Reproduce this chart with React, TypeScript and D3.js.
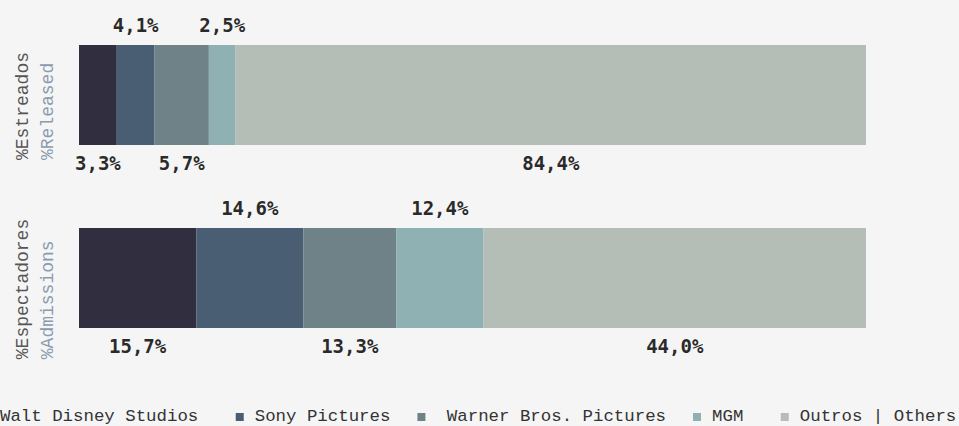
import React, { useEffect, useRef } from "react";
import * as d3 from "d3";

// studios, in stacking order
const studios = ["Walt Disney Studios", "Sony Pictures", "Warner Bros. Pictures", "MGM", "Outros | Others"];
// legend text as it appears (spacing kept)
const legendText = ["Walt Disney Studios ", "Sony Pictures", " Warner Bros. Pictures", "MGM ", "Outros | Others"];
const colors = ["#312e40", "#4a5e73", "#6e8287", "#8fb1b3", "#b4beb6"];

const rows = ["released", "admissions"];
const rowLabelPt = ["%Estreados", "%Espectadores"];
const rowLabelEn = ["%Released", "%Admissions"];

// segment widths as drawn (share of the bar, %)
const releasedShare = [4.8, 4.8, 6.9, 3.4, 80.1];
const admissionsShare = [14.9, 13.6, 11.8, 11.1, 48.6];

// printed values
const releasedLabels = ["3,3%", "4,1%", "5,7%", "2,5%", "84,4%"];
const admissionsLabels = ["15,7%", "14,6%", "13,3%", "12,4%", "44,0%"];

const width = 959,
  height = 426;

const mono = "'Liberation Mono', 'DejaVu Sans Mono', monospace";

export default function App() {
  const ref = useRef<SVGSVGElement>(null);

  useEffect(() => {
    document.body.style.margin = "0";
    document.body.style.background = "#f5f5f5";
    const svg = d3.select(ref.current);
    svg.selectAll("*").remove();

    const x = d3.scaleLinear().domain([0, 100]).range([79, 866]);
    const y = d3.scaleBand().domain(rows).range([45, 328]).paddingInner(0.4536).paddingOuter(0);

    const shares = [releasedShare, admissionsShare];
    const labels = [releasedLabels, admissionsLabels];

    rows.forEach((row, r) => {
      const stack = d3.cumsum(shares[r]);
      const segs = shares[r].map((v, i) => ({ x0: stack[i] - v, x1: stack[i], label: labels[r][i], i }));
      const top = y(row)!;
      const bh = y.bandwidth();
      const g = svg.append("g");

      g.selectAll("rect")
        .data(segs)
        .enter()
        .append("rect")
        .attr("x", (d) => x(d.x0))
        .attr("width", (d) => x(d.x1) - x(d.x0))
        .attr("y", top)
        .attr("height", bh)
        .attr("fill", (d) => colors[d.i]);

      // odd ones above, even ones below
      g.selectAll("text.val")
        .data(segs)
        .enter()
        .append("text")
        .attr("class", "val")
        .attr("x", (d) => (x(d.x0) + x(d.x1)) / 2)
        .attr("y", (d) => (d.i % 2 ? top - 13 : top + bh + 25))
        .attr("text-anchor", "middle")
        .attr("font-family", "'DejaVu Sans Mono', monospace")
        .attr("font-weight", "bold")
        .attr("font-size", 19)
        .attr("fill", "#2a2a2a")
        .text((d) => d.label);

      // rotated row label, two lines
      const cy = top + bh / 2;
      const lab = svg.append("g");
      const t1 = lab
        .append("text")
        .attr("font-family", mono)
        .attr("font-size", 18)
        .attr("fill", "#555")
        .text(rowLabelPt[r]);
      const t2 = lab
        .append("text")
        .attr("font-family", mono)
        .attr("font-size", 18)
        .attr("fill", "#8a9bb0")
        .text(rowLabelEn[r]);
      const maxLen = Math.max(
        (t1.node() as SVGTextElement).getComputedTextLength(),
        (t2.node() as SVGTextElement).getComputedTextLength()
      );
      const y0 = cy + 11 + maxLen / 2;
      t1.attr("transform", `translate(28,${y0}) rotate(-90)`);
      t2.attr("transform", `translate(53,${y0}) rotate(-90)`);
    });

    // legend
    const legend = svg.append("g").attr("transform", `translate(0,421)`);
    let lx = -19;
    studios.forEach((s, i) => {
      legend
        .append("rect")
        .attr("x", lx)
        .attr("y", -8)
        .attr("width", 8)
        .attr("height", 8)
        .attr("fill", colors[i]);
      const t = legend
        .append("text")
        .attr("x", lx + 19)
        .attr("y", 0)
        .attr("font-family", mono)
        .attr("font-size", 17.4)
        .attr("fill", "#333")
        .style("white-space", "pre")
        .text(legendText[i]);
      lx += 19 + (t.node() as SVGTextElement).getComputedTextLength() + 27;
    });
  }, []);

  return (
    <svg
      ref={ref}
      width={width}
      height={height}
      style={{ display: "block", background: "#f5f5f5" }}
    ></svg>
  );
}
